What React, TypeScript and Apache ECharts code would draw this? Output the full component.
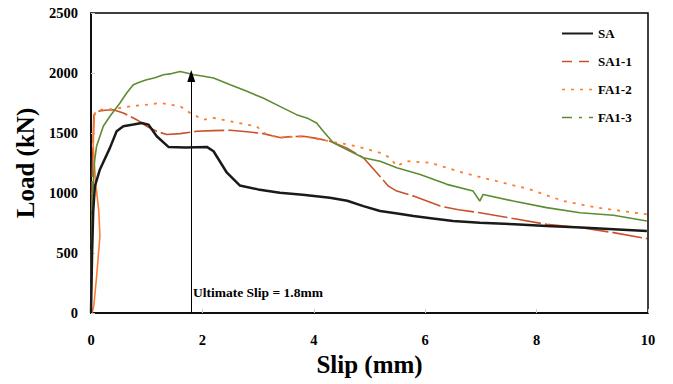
import React, { useEffect, useRef } from "react";
import * as echarts from "echarts";

const xTicks = [0, 2, 4, 6, 8, 10];
const yTicks = [0, 500, 1000, 1500, 2000, 2500];
const seriesNames = ["SA", "SA1-1", "FA1-2", "FA1-3"];

const saData: [number, number][] = [
  [0, 0], [0.02, 500], [0.04, 850], [0.07, 1057], [0.16, 1196], [0.34, 1376], [0.46, 1514],
  [0.58, 1556], [0.76, 1570], [0.91, 1584], [1.03, 1570], [1.18, 1473], [1.39, 1384],
  [1.7, 1380], [2.08, 1384], [2.2, 1348], [2.44, 1169], [2.67, 1063], [3.0, 1030],
  [3.39, 1002], [3.8, 985], [4.29, 961], [4.6, 935], [4.89, 891], [5.19, 850], [5.5, 830],
  [5.79, 808], [6.1, 790], [6.5, 767], [6.98, 753], [7.6, 740], [8.18, 725], [8.8, 712],
  [9.38, 698], [9.98, 684],
];

const sa11Data: [number, number][] = [
  [0, 0], [0.02, 1100], [0.05, 1650], [0.12, 1680], [0.25, 1690], [0.4, 1694], [0.58, 1667],
  [0.82, 1611], [1.0, 1556], [1.18, 1514], [1.36, 1487], [1.6, 1495], [1.9, 1514],
  [2.2, 1520], [2.5, 1523], [2.8, 1510], [3.09, 1495], [3.39, 1462], [3.6, 1470],
  [3.81, 1473], [4.05, 1455], [4.29, 1431], [4.59, 1376], [4.89, 1293], [5.13, 1169],
  [5.34, 1057], [5.49, 1016], [5.79, 974], [6.27, 891], [6.6, 860], [6.98, 836],
  [7.58, 787], [8.18, 739], [8.78, 712], [9.38, 670], [9.98, 620],
];

const fa12Data: [number, number][] = [
  [0.06, 1650], [0.1, 1690], [0.16, 1694], [0.4, 1700], [0.7, 1722], [1.0, 1736],
  [1.24, 1750], [1.42, 1736], [1.6, 1722], [1.78, 1667], [2.02, 1611], [2.2, 1625],
  [2.5, 1597], [2.8, 1570], [2.97, 1556], [3.15, 1487], [3.39, 1459], [3.6, 1468],
  [3.81, 1473], [4.05, 1450], [4.29, 1431], [4.77, 1390], [5.19, 1335], [5.37, 1293],
  [5.49, 1224], [5.67, 1265], [6.09, 1252], [6.68, 1169], [7.28, 1099], [7.88, 1030],
  [8.48, 933], [9.08, 878], [9.98, 822],
];

const fa12Initial: [number, number][] = [
  [0.02, 0], [0.05, 60], [0.1, 300], [0.16, 640], [0.14, 850], [0.08, 1100],
  [0.04, 1400], [0.06, 1650],
];

const fa13Data: [number, number][] = [
  [0, 0], [0.02, 900], [0.06, 1250], [0.1, 1390], [0.22, 1556], [0.34, 1639], [0.52, 1750],
  [0.64, 1833], [0.76, 1902], [0.88, 1925], [1.0, 1944], [1.15, 1960], [1.3, 1985],
  [1.45, 1995], [1.6, 2013], [1.72, 2000], [1.84, 1985], [2.0, 1975], [2.2, 1958],
  [2.5, 1902], [2.8, 1847], [3.09, 1791], [3.39, 1722], [3.69, 1653], [3.9, 1620],
  [4.05, 1584], [4.17, 1514], [4.35, 1418], [4.59, 1362], [4.89, 1293], [5.19, 1265],
  [5.49, 1210], [5.91, 1155], [6.39, 1072], [6.86, 1016], [6.98, 933], [7.04, 988],
  [7.58, 933], [8.18, 878], [8.78, 836], [9.38, 814], [9.98, 767],
];

const ultimateSlip = 1.8;
const arrowTop = 1975;

const colors = ["#1a1a1a", "#c9522b", "#ff7b2e", "#5e8c32"];
const serif = "'Liberation Serif', 'Times New Roman', serif";

export default function App() {
  const ref = useRef<HTMLDivElement>(null);
  useEffect(() => {
    if (!ref.current) return;
    const chart = echarts.init(ref.current, null, { renderer: "svg" });
    chart.setOption({
      animation: false,
      backgroundColor: "#ffffff",
      grid: {
        left: 91, right: 25, top: 13, bottom: 71,
        show: true, borderColor: "#000", borderWidth: 1.5, backgroundColor: "transparent",
      },
      legend: {
        orient: "vertical",
        left: 556,
        top: 22,
        itemWidth: 31,
        itemHeight: 13,
        itemGap: 15,
        itemStyle: { opacity: 0 },
        textStyle: { fontFamily: serif, fontWeight: "bold", fontSize: 13, color: "#000" },
        data: [
          { name: seriesNames[0], lineStyle: { type: "solid", width: 2 } },
          { name: seriesNames[1], lineStyle: { type: [10, 7], width: 1.5 } },
          { name: seriesNames[2], lineStyle: { type: [3, 6], width: 1.5 } },
          { name: seriesNames[3], lineStyle: { type: [10, 7, 3, 7], width: 1.5 } },
        ],
      },
      xAxis: {
        type: "value",
        min: xTicks[0],
        max: xTicks[xTicks.length - 1],
        interval: 2,
        name: "Slip (mm)",
        nameLocation: "middle",
        nameGap: 39,
        nameTextStyle: { fontFamily: serif, fontWeight: "bold", fontSize: 25, color: "#000" },
        axisLine: { show: true, lineStyle: { color: "#000", width: 1.5 } },
        axisTick: { show: true, inside: true, length: 4, lineStyle: { color: "#ccc" } },
        splitLine: { show: false },
        axisLabel: {
          fontFamily: serif, fontWeight: "bold", fontSize: 14.5, color: "#000", margin: 19,
          formatter: (v: number) => String(v),
        },
      },
      yAxis: {
        type: "value",
        min: yTicks[0],
        max: yTicks[yTicks.length - 1],
        interval: 500,
        name: "Load (kN)",
        nameLocation: "middle",
        nameGap: 53,
        nameTextStyle: { fontFamily: serif, fontWeight: "bold", fontSize: 25, color: "#000" },
        axisLine: { show: true, lineStyle: { color: "#000", width: 1.5 } },
        axisTick: { show: true, inside: true, length: 4, lineStyle: { color: "#ccc" } },
        splitLine: { show: false },
        axisLabel: {
          fontFamily: serif, fontWeight: "bold", fontSize: 14.5, color: "#000", margin: 13,
          formatter: (v: number) => String(v),
        },
      },
      series: [
        {
          name: seriesNames[0], type: "line", data: saData, symbol: "none",
          lineStyle: { color: colors[0], width: 2.5 }, itemStyle: { color: colors[0] }, z: 5,
          markLine: {
            silent: true,
            symbol: ["none", "triangle"],
            symbolSize: [8, 12],
            label: { show: false },
            lineStyle: { color: "#000", width: 1, type: "solid" },
            data: [[{ coord: [ultimateSlip, 0] }, { coord: [ultimateSlip, arrowTop] }]],
          },
        },
        {
          name: seriesNames[1], type: "line", data: sa11Data, symbol: "none",
          lineStyle: { color: colors[1], width: 1.6, type: [30, 4] }, itemStyle: { color: colors[1] },
        },
        {
          name: seriesNames[2], type: "line", data: fa12Data, symbol: "none",
          lineStyle: { color: colors[2], width: 1.8, type: [3, 6] }, itemStyle: { color: colors[2] },
        },
        {
          name: "FA1-2 start", type: "line", data: fa12Initial, symbol: "none",
          lineStyle: { color: colors[2], width: 1.6 }, itemStyle: { color: colors[2] },
        },
        {
          name: seriesNames[3], type: "line", data: fa13Data, symbol: "none",
          lineStyle: { color: colors[3], width: 1.6 }, itemStyle: { color: colors[3] },
        },
      ],
      graphic: [
        {
          type: "text",
          left: 193,
          top: 285,
          style: {
            text: "Ultimate Slip = 1.8mm",
            fontFamily: serif,
            fontWeight: "bold",
            fontSize: 13.5,
            fill: "#000",
          },
        },
      ],
    });
    return () => chart.dispose();
  }, []);
  return (
    <div
      ref={ref}
      style={{ position: "absolute", left: 0, top: 0, width: 673, height: 384, overflow: "hidden" }}
    />
  );
}
